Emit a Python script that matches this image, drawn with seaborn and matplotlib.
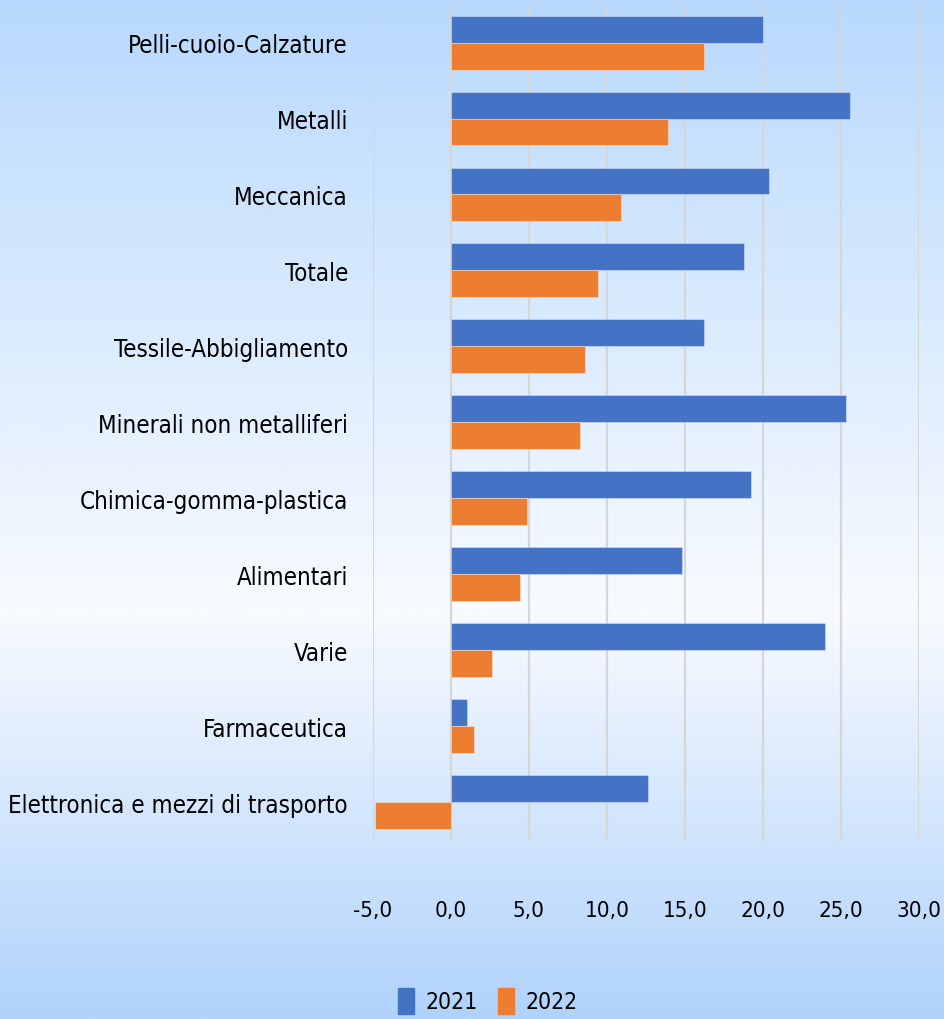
import numpy as np
import pandas as pd
import matplotlib
matplotlib.use("Agg")
import matplotlib.pyplot as plt
from matplotlib import font_manager
from matplotlib.colors import LinearSegmentedColormap
import seaborn as sns

# data
categories = [
    "Pelli-cuoio-Calzature",
    "Metalli",
    "Meccanica",
    "Totale",
    "Tessile-Abbigliamento",
    "Minerali non metalliferi",
    "Chimica-gomma-plastica",
    "Alimentari",
    "Varie",
    "Farmaceutica",
    "Elettronica e mezzi di trasporto",
]
values_2021 = [20.0, 25.6, 20.4, 18.8, 16.2, 25.3, 19.2, 14.8, 24.0, 1.0, 12.6]
values_2022 = [16.2, 13.9, 10.9, 9.4, 8.6, 8.3, 4.9, 4.4, 2.6, 1.5, -4.9]
years = ["2021", "2022"]
x_ticks = [-5, 0, 5, 10, 15, 20, 25, 30]

palette = {"2021": "#4472C4", "2022": "#ED7D31"}

df = pd.DataFrame({
    "settore": categories * 2,
    "valore": values_2021 + values_2022,
    "anno": [years[0]] * len(categories) + [years[1]] * len(categories),
})

sns.set_style("white")
names = {f.name for f in font_manager.fontManager.ttflist}
if "Liberation Sans Narrow" in names:
    family = ["Liberation Sans Narrow", "DejaVu Sans"]
else:
    family = ["DejaVu Sans"]
    plt.rcParams["font.stretch"] = "condensed"
plt.rcParams["font.family"] = family
plt.rcParams["text.color"] = "black"
plt.rcParams["xtick.color"] = "black"
plt.rcParams["ytick.color"] = "black"

fig = plt.figure(figsize=(9.45, 10.2), dpi=100)

# gradient background
bg = fig.add_axes([0, 0, 1, 1], zorder=-10)
cmap = LinearSegmentedColormap.from_list(
    "bg", [(0.0, "#B8D9FD"), (0.6, "#F8FBFF"), (1.0, "#B0D2FB")]
)
grad = np.linspace(0, 1, 512).reshape(-1, 1)
bg.imshow(grad, aspect="auto", cmap=cmap, extent=[0, 1, 0, 1], origin="upper")
bg.set_axis_off()

ax = fig.add_axes([0.3947, 0.1755, 0.5778, 0.819])
ax.patch.set_alpha(0)

sns.barplot(data=df, y="settore", x="valore", hue="anno", palette=palette,
            order=categories, hue_order=years, orient="h", width=0.71,
            saturation=1, edgecolor="#FFFFFF55", linewidth=0.8, ax=ax,
            legend=False)

ax.set_xlim(-5, 30)
ax.set_xticks(x_ticks)
ax.set_xticklabels([f"{t:.1f}".replace(".", ",") for t in x_ticks])
ax.grid(axis="x", color="#D6D6D6", linewidth=1.6)
ax.set_axisbelow(True)
sns.despine(ax=ax, left=True, bottom=True)
ax.set_xlabel("")
ax.set_ylabel("")
ax.tick_params(axis="x", length=0, pad=43, labelsize=16)
ax.tick_params(axis="y", length=0, pad=18, labelsize=17.25)

handles = [plt.Rectangle((0, 0), 1, 1, color=palette[y]) for y in years]
fig.legend(handles, years, loc="center", bbox_to_anchor=(0.516, 0.018),
           ncol=2, frameon=False, fontsize=16.5, handlelength=0.68,
           handleheight=1.35, handletextpad=0.5, columnspacing=0.9,
           borderpad=0)

fig.savefig("out.png", dpi=100)
